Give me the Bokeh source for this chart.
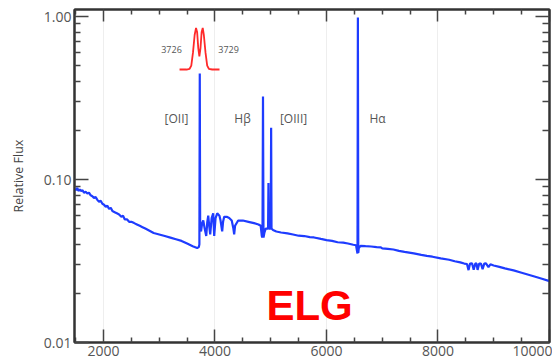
from bokeh.plotting import figure
from bokeh.models import (Range1d, FixedTicker, NumeralTickFormatter, LogAxis,
                          LinearAxis, Label)
from bokeh.embed import file_html
from bokeh.resources import INLINE

# ---------------- data ----------------
wave = [1490, 1510, 1530, 1550, 1575, 1600, 1625, 1650, 1680, 1710, 1740, 1770,
        1800, 1830, 1860, 1890, 1920, 1950, 1980, 2010, 2040, 2070, 2100, 2130,
        2160, 2200, 2240, 2280, 2320, 2350, 2380, 2420, 2460, 2500, 2550, 2600,
        2650, 2700, 2750, 2800, 2850, 2900, 2950, 3000, 3100, 3200, 3300, 3400,
        3500, 3600, 3680, 3710,
        3720, 3727, 3734,
        3750, 3770, 3790, 3815, 3843, 3862, 3879, 3896, 3914, 3940, 3968, 3977,
        3986, 4010, 4040, 4080, 4100, 4129, 4145, 4165, 4210, 4255, 4300, 4330,
        4344, 4360, 4416, 4500, 4600, 4700, 4780, 4820, 4840, 4852,
        4861, 4870, 4885, 4910, 4940, 4952, 4959, 4966, 4985, 5000, 5007, 5014,
        5040, 5100, 5185, 5300, 5400, 5500, 5600, 5700, 5776, 5900, 6000, 6100,
        6200, 6300, 6385, 6480, 6530, 6550, 6556, 6563, 6570, 6580, 6610, 6700,
        6800, 6900, 6975, 7000, 7100, 7200, 7300, 7400, 7566, 7700, 7800, 7900,
        8049, 8200, 8300, 8400, 8470, 8520, 8548, 8575, 8610, 8640, 8670, 8690,
        8710, 8740, 8770, 8800, 8830, 8860, 8905, 8940, 8998, 9100, 9200, 9356,
        9500, 9700, 9850, 10000]

flux = [0.088, 0.086, 0.089, 0.085, 0.087, 0.085, 0.086, 0.083, 0.084, 0.082,
        0.083, 0.080, 0.079, 0.077, 0.078, 0.075, 0.073, 0.074, 0.071, 0.070,
        0.068, 0.069, 0.066, 0.067, 0.064, 0.063, 0.062, 0.061, 0.059, 0.060,
        0.057, 0.057, 0.055, 0.055, 0.054, 0.053, 0.052, 0.051, 0.050, 0.049,
        0.048, 0.047, 0.0465, 0.046, 0.045, 0.044, 0.043, 0.042, 0.0405, 0.039,
        0.038, 0.0385,
        0.040, 0.447, 0.050,
        0.048, 0.054, 0.056, 0.050, 0.045, 0.055, 0.060, 0.052, 0.046, 0.058,
        0.062, 0.052, 0.045, 0.058, 0.062, 0.060, 0.056, 0.048, 0.055, 0.059,
        0.059, 0.058, 0.056, 0.050, 0.046, 0.052, 0.056, 0.056, 0.055, 0.054,
        0.053, 0.052, 0.045, 0.044,
        0.323, 0.044, 0.047, 0.050, 0.050, 0.050, 0.095, 0.050, 0.050, 0.050,
        0.208, 0.050, 0.049, 0.048, 0.0473, 0.0467, 0.0460, 0.0452, 0.0450,
        0.0443, 0.0441, 0.0432, 0.0425, 0.0420, 0.0412, 0.0410, 0.0405, 0.0398,
        0.0395, 0.0360, 0.0352, 0.986, 0.0355, 0.0380, 0.0392, 0.0390, 0.0388,
        0.0385, 0.0383, 0.0378, 0.0375, 0.0372, 0.0365, 0.0360, 0.0352, 0.0345,
        0.0340, 0.0336, 0.0328, 0.0322, 0.0315, 0.0310, 0.0305, 0.0303, 0.0278,
        0.0305, 0.0306, 0.0280, 0.0305, 0.0306, 0.0279, 0.0305, 0.0305, 0.0282,
        0.0305, 0.0306, 0.0290, 0.0302, 0.0297, 0.0291, 0.0285, 0.0277, 0.0268,
        0.0256, 0.0247, 0.0238]

# [OII] 3726/3729 doublet inset profile (drawn in plot coordinates)
doublet_wave = [3364, 3490, 3545, 3575, 3605, 3635, 3660, 3680, 3700, 3720,
                3740, 3760, 3780, 3800, 3830, 3860, 3890, 3950, 4081]
doublet_flux = [0.473, 0.473, 0.478, 0.50, 0.60, 0.77, 0.85, 0.80, 0.64, 0.57,
                0.64, 0.80, 0.85, 0.77, 0.60, 0.50, 0.478, 0.473, 0.473]

x_major = [2000, 4000, 6000, 8000, 10000]
x_minor = [1500, 2500, 3000, 3500, 4500, 5000, 5500, 6500, 7000, 7500, 8500,
           9000, 9500]
y_major = [0.01, 0.1, 1.0]
y_minor = [0.02, 0.03, 0.04, 0.05, 0.06, 0.07, 0.08, 0.09,
           0.2, 0.3, 0.4, 0.5, 0.6, 0.7, 0.8, 0.9]

line_labels = ["[OII]", "Hβ", "[OIII]", "Hα"]
line_label_x = [3310, 4494, 5409, 6916]
line_label_y = 0.237
doublet_labels = ["3726", "3729"]
doublet_label_x = [3220, 4243]
doublet_label_y = 0.627

# ---------------- figure ----------------
FONT = "Open Sans"
p = figure(width=552, height=362, y_axis_type="log",
           x_range=Range1d(1480, 10000), y_range=Range1d(0.01, 1.104),
           output_backend="svg", toolbar_location=None,
           min_border_left=74, min_border_right=3, min_border_top=9,
           min_border_bottom=20)
p.background_fill_color = "white"
p.border_fill_color = "white"
p.outline_line_color = "#333333"
p.outline_line_width = 2

p.ygrid.visible = False
p.xgrid.grid_line_color = "#eeeeee"
p.xgrid.grid_line_width = 1

xt = FixedTicker(ticks=x_major, minor_ticks=x_minor)
yt = FixedTicker(ticks=y_major, minor_ticks=y_minor)

xa = p.xaxis[0]
xa.ticker = xt
ya = p.yaxis[0]
ya.ticker = yt
ya.formatter = NumeralTickFormatter(format="0.00")
ya.axis_label = "Relative Flux"
ya.axis_label_text_font = FONT
ya.axis_label_text_font_size = "12.5px"
ya.axis_label_text_font_style = "normal"
ya.axis_label_text_color = "#444444"
ya.axis_label_standoff = 14

for ax in (xa, ya):
    ax.axis_line_color = "#333333"
    ax.axis_line_width = 2
    ax.major_tick_out = 0
    ax.minor_tick_out = 0
    ax.major_tick_line_color = "#444444"
    ax.minor_tick_line_color = "#444444"
    ax.major_tick_line_width = 1.5
    ax.minor_tick_line_width = 1.5
    ax.major_label_text_font = FONT
    ax.major_label_text_font_size = "14px"
    ax.major_label_text_color = "#555555"
    ax.major_label_standoff = 3
xa.major_tick_in = 13
xa.minor_tick_in = 5
ya.major_tick_in = 14
ya.minor_tick_in = 6

common = dict(major_tick_out=0, minor_tick_out=0,
              major_label_text_font_size="1px", major_label_text_color=None,
              major_label_standoff=0, axis_line_color="#333333",
              axis_line_width=2, major_tick_line_color="#444444",
              minor_tick_line_color="#444444", major_tick_line_width=1.5,
              minor_tick_line_width=1.5)
top = LinearAxis(ticker=xt, major_tick_in=12, minor_tick_in=5, **common)
right = LogAxis(ticker=yt, major_tick_in=14, minor_tick_in=7, **common)
p.add_layout(top, "above")
p.add_layout(right, "right")

# spectrum
p.line(wave, flux, line_color="#1e3cff", line_width=2.2)
# doublet inset
p.line(doublet_wave, doublet_flux, line_color="#ff2a2a", line_width=1.8)

for t, x in zip(line_labels, line_label_x):
    p.add_layout(Label(x=x, y=line_label_y, text=t, text_align="center",
                       text_baseline="middle", text_font=FONT,
                       text_font_size="12px", text_color="#555555"))
for t, x in zip(doublet_labels, doublet_label_x):
    p.add_layout(Label(x=x, y=doublet_label_y, text=t, text_align="center",
                       text_baseline="middle", text_font=FONT,
                       text_font_size="9px", text_color="#555555"))

p.add_layout(Label(x=5696, y=0.01687, text="ELG", text_align="center",
                   text_baseline="middle", text_font="Liberation Sans",
                   text_font_size="42px", text_font_style="bold",
                   text_color="#ff0000"))

open("out.html", "w").write(file_html(p, INLINE))
